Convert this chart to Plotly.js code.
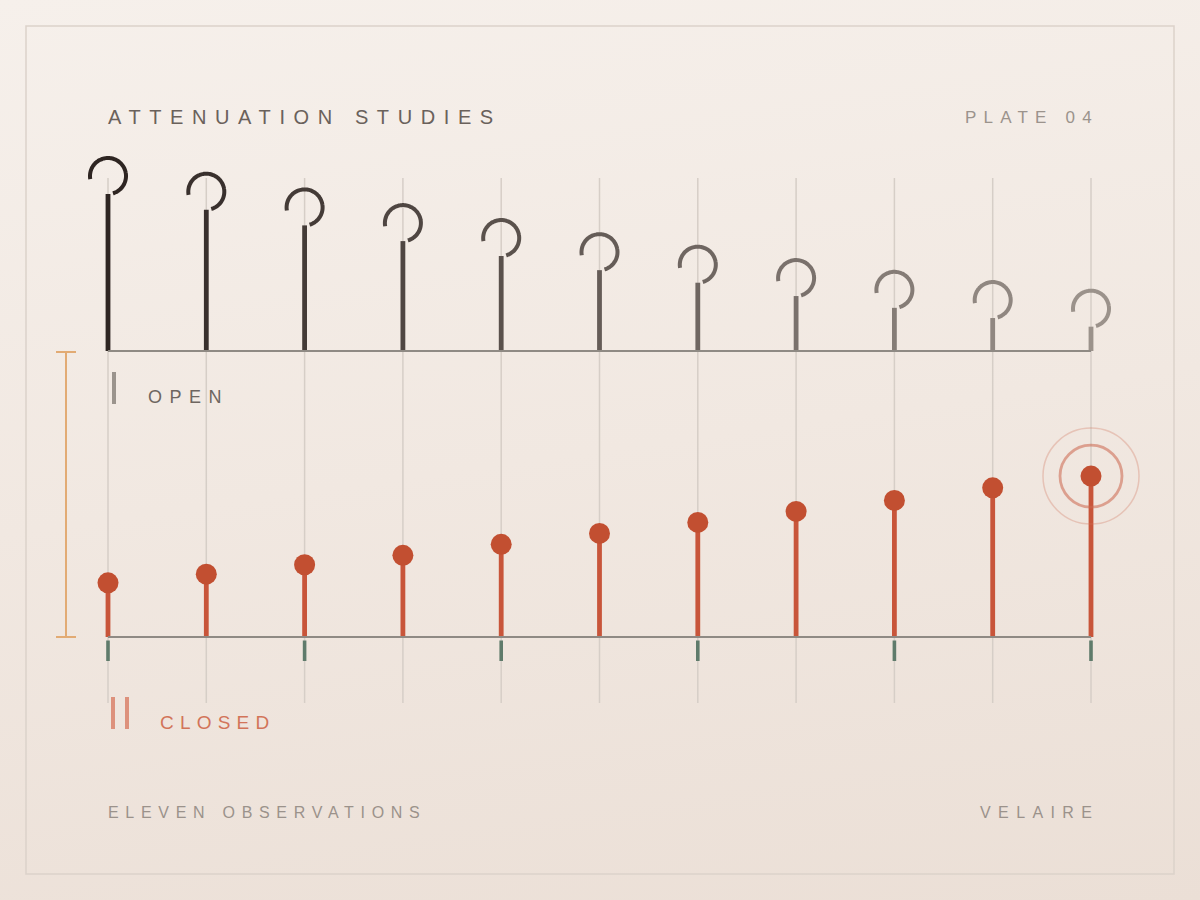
<!DOCTYPE html>
<html>
<head>
<meta charset="utf-8">
<script src="https://cdn.plot.ly/plotly-3.0.1.min.js"></script>
<style>
  html, body { margin: 0; padding: 0; }
  body { width: 1200px; height: 900px; background: linear-gradient(172deg, #f6f0eb 0%, #f1e8e1 50%, #ebdfd6 100%); }
  #chart { width: 1200px; height: 900px; }
</style>
</head>
<body>
<div id="chart"></div>
<script>
// ---- data ----
const observations = [1, 2, 3, 4, 5, 6, 7, 8, 9, 10, 11];
const openValues   = [100, 90, 80, 70, 60.5, 51.5, 43.5, 35, 27.5, 21, 15.5];
const closedValues = [34.5, 40, 46, 52, 59, 66, 73, 80, 87, 95, 102.5];
const tickEvery = 2;
const titleText = 'ATTENUATION STUDIES';
const plateText = 'PLATE 04';
const openLabel = 'OPEN';
const closedLabel = 'CLOSED';
const footLeft = 'ELEVEN OBSERVATIONS';
const footRight = 'VELAIRE';

// ---- geometry / style ----
const W = 1200, H = 900;
const n = observations.length;
const xIdx = observations.map((d, i) => i);
const PX_LEFT = 108, PX_RIGHT = 1091;
const pxPerX = (PX_RIGHT - PX_LEFT) / (n - 1);
const xSpan = W / pxPerX;
const xr0 = -PX_LEFT / pxPerX;
const K = 1.57; // px per value unit
const BASE_OPEN = 351, BASE_CLOSED = 637;
const yRange  = [-(H - BASE_CLOSED) / K, BASE_CLOSED / K];
const y2Range = [-(H - BASE_OPEN) / K, BASE_OPEN / K];
const FONT = 'Liberation Sans, Arial, sans-serif';

function mix(a, b, t) {
  const pa = [1,3,5].map(k => parseInt(a.slice(k, k+2), 16));
  const pb = [1,3,5].map(k => parseInt(b.slice(k, k+2), 16));
  return 'rgb(' + pa.map((v, j) => Math.round(v + (pb[j] - v) * t)).join(',') + ')';
}
const openColors = xIdx.map(i => mix('#2e2522', '#9b928b', i / (n - 1)));

const traces = [];
// open stems
traces.push({
  type: 'bar', x: xIdx, y: openValues, base: 0, yaxis: 'y2', xaxis: 'x',
  width: 4.8 / pxPerX, marker: { color: openColors, line: { width: 0 } },
  hoverinfo: 'skip'
});
// open hooks (arcs)
const R = 18;
xIdx.forEach(i => {
  const cx = i, cy = openValues[i] + R / K;
  const xs = [], ys = [];
  for (let a = 190; a >= -74; a -= 3) {
    const r = a * Math.PI / 180;
    xs.push(cx + (R / pxPerX) * Math.cos(r));
    ys.push(cy + (R / K) * Math.sin(r));
  }
  traces.push({
    type: 'scatter', mode: 'lines', x: xs, y: ys, yaxis: 'y2', xaxis: 'x',
    line: { color: openColors[i], width: 4, shape: 'spline' }, hoverinfo: 'skip', cliponaxis: false
  });
});
// closed stems
traces.push({
  type: 'bar', x: xIdx, y: closedValues, base: 0, yaxis: 'y', xaxis: 'x',
  width: 4.8 / pxPerX, marker: { color: '#c8553a', line: { width: 0 } },
  hoverinfo: 'skip'
});
// rings around the last closed point
const last = n - 1;
traces.push({
  type: 'scatter', mode: 'markers', x: [last, last], y: [closedValues[last], closedValues[last]],
  yaxis: 'y', xaxis: 'x', cliponaxis: false,
  marker: { size: [96, 62], color: 'rgba(0,0,0,0)',
            line: { color: ['rgba(210,120,95,0.45)', 'rgba(205,105,80,0.8)'], width: [1.5, 2.8] } },
  hoverinfo: 'skip'
});
// closed dots
traces.push({
  type: 'scatter', mode: 'markers', x: xIdx, y: closedValues, yaxis: 'y', xaxis: 'x', cliponaxis: false,
  marker: { size: 21, color: '#c24f31', line: { width: 0 } }, hoverinfo: 'skip'
});

const shapes = [];
const py = p => (H - p) / H;
const pxp = p => p / W;
// frame
shapes.push({ type: 'rect', xref: 'paper', yref: 'paper', x0: pxp(26), x1: pxp(1174), y0: py(874), y1: py(26),
  line: { color: '#dcd2ca', width: 1.5 }, fillcolor: 'rgba(0,0,0,0)', layer: 'below' });
// gridlines
xIdx.forEach(i => {
  shapes.push({ type: 'line', xref: 'x', yref: 'paper', x0: i, x1: i, y0: py(703), y1: py(178),
    line: { color: '#d6cec7', width: 1.5 }, layer: 'below' });
});
// baselines
shapes.push({ type: 'line', xref: 'x', yref: 'y2', x0: 0, x1: n - 1, y0: 0, y1: 0,
  line: { color: '#8f8a84', width: 2.2 }, layer: 'above' });
shapes.push({ type: 'line', xref: 'x', yref: 'y', x0: 0, x1: n - 1, y0: 0, y1: 0,
  line: { color: '#8f8a84', width: 2.2 }, layer: 'above' });
// green ticks
xIdx.filter(i => i % tickEvery === 0).forEach(i => {
  shapes.push({ type: 'line', xref: 'x', yref: 'y', x0: i, x1: i, y0: -3.5 / K, y1: -24 / K,
    line: { color: '#5f7b6b', width: 3.6 }, layer: 'above' });
});
// orange bracket
const bc = '#e2ab74';
shapes.push({ type: 'line', xref: 'paper', yref: 'paper', x0: pxp(66), x1: pxp(66), y0: py(352), y1: py(637), line: { color: bc, width: 2 } });
shapes.push({ type: 'line', xref: 'paper', yref: 'paper', x0: pxp(56), x1: pxp(76), y0: py(352), y1: py(352), line: { color: bc, width: 2 } });
shapes.push({ type: 'line', xref: 'paper', yref: 'paper', x0: pxp(56), x1: pxp(76), y0: py(637), y1: py(637), line: { color: bc, width: 2 } });
// roman numeral marks
shapes.push({ type: 'line', xref: 'paper', yref: 'paper', x0: pxp(114), x1: pxp(114), y0: py(372), y1: py(404), line: { color: '#9b948d', width: 4 } });
shapes.push({ type: 'line', xref: 'paper', yref: 'paper', x0: pxp(113), x1: pxp(113), y0: py(697), y1: py(729), line: { color: '#dd917c', width: 4 } });
shapes.push({ type: 'line', xref: 'paper', yref: 'paper', x0: pxp(127), x1: pxp(127), y0: py(697), y1: py(729), line: { color: '#dd917c', width: 4 } });

function spaced(t, ls) { return '<span style="letter-spacing:' + ls + 'px">' + t + '</span>'; }
function ann(text, px, pyv, anchor, size, color, ls) {
  return { text: spaced(text, ls), xref: 'paper', yref: 'paper', x: pxp(px), y: py(pyv),
    xanchor: anchor, yanchor: 'middle', showarrow: false, borderpad: 0,
    font: { family: FONT, size: size, color: color } };
}
const annotations = [
  ann(titleText, 107, 117, 'left', 20, '#6a615b', 8.6),
  ann(plateText, 1100, 117, 'right', 17, '#9b938c', 7.2),
  ann(openLabel, 147, 397, 'left', 18, '#6e6660', 7.5),
  ann(closedLabel, 159, 722, 'left', 19, '#d27459', 6.2),
  ann(footLeft, 107, 812, 'left', 16, '#9b928b', 6.7),
  ann(footRight, 1100, 812, 'right', 16, '#9b928b', 7.4)
];

const layout = {
  width: W, height: H,
  margin: { l: 0, r: 0, t: 0, b: 0 },
  paper_bgcolor: 'rgba(0,0,0,0)', plot_bgcolor: 'rgba(0,0,0,0)',
  showlegend: false, barmode: 'overlay',
  xaxis: { range: [xr0, xr0 + xSpan], visible: false, fixedrange: true },
  yaxis: { range: yRange, visible: false, fixedrange: true },
  yaxis2: { range: y2Range, visible: false, overlaying: 'y', fixedrange: true },
  shapes: shapes, annotations: annotations,
  font: { family: FONT }
};
Plotly.newPlot('chart', traces, layout, { staticPlot: true, displayModeBar: false });
</script>
</body>
</html>
